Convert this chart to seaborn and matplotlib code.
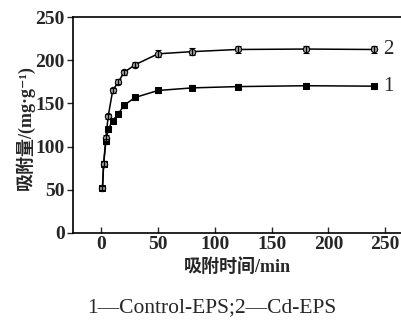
import matplotlib
matplotlib.use("Agg")
import matplotlib.pyplot as plt
import seaborn as sns
import pandas as pd

sns.set_theme(style="ticks")
plt.rcParams['font.family'] = ['Liberation Serif', 'Noto Sans CJK SC', 'DejaVu Serif']

times = [1, 2, 4, 6, 10, 15, 20, 30, 50, 80, 120, 180, 240]
cd_eps = [52, 80, 110, 135, 165, 175, 186, 195, 207.5, 210, 212.5, 213, 212.5]
cd_err = [2, 3, 3, 3, 3, 3, 3, 3, 4, 4, 4, 4, 4]
ctrl_eps = [52, 80, 106, 120, 130, 138, 148, 157, 165, 168, 169.5, 170.5, 170]
ctrl_err = [2, 3, 3, 3, 3, 3, 3, 3, 3, 3, 3, 3, 3]
series_labels = ["1", "2"]
caption = "1—Control-EPS;2—Cd-EPS"

df = pd.concat([
    pd.DataFrame({"t": times, "q": ctrl_eps, "err": ctrl_err, "s": "1"}),
    pd.DataFrame({"t": times, "q": cd_eps, "err": cd_err, "s": "2"}),
])

fig = plt.figure(figsize=(4.01, 3.23), dpi=100)
ax = fig.add_axes([0.182, 0.279, 0.818, 0.668])

sns.lineplot(data=df, x="t", y="q", hue="s", style="s",
             markers={"1": "s", "2": "o"}, dashes=False,
             palette={"1": "black", "2": "black"},
             markersize=4.6, linewidth=1.1, markeredgecolor="black",
             legend=False, ax=ax)
for vals, errs in [(ctrl_eps, ctrl_err), (cd_eps, cd_err)]:
    ax.errorbar(times, vals, yerr=errs, fmt="none", ecolor="black",
                elinewidth=0.8, capsize=2, capthick=0.8)
for line in ax.lines:
    if line.get_marker() == "o":
        line.set_markerfacecolor("#9a9a9a")

ax.text(248, ctrl_eps[-1], series_labels[0], fontsize=15, va="center", ha="left")
ax.text(248, cd_eps[-1], series_labels[1], fontsize=15, va="center", ha="left")

ax.set_xlim(-25, 264)
ax.set_ylim(0, 250)
ax.set_xticks([0, 50, 100, 150, 200, 250])
ax.set_yticks([0, 50, 100, 150, 200, 250])
ax.tick_params(axis="x", direction="in", length=4, width=1, labelsize=14, pad=2)
ax.tick_params(axis="y", direction="out", length=4, width=1, labelsize=14, pad=2)
for lab in ax.get_xticklabels() + ax.get_yticklabels():
    lab.set_fontweight("bold")
ax.set_xlabel("吸附时间/min", fontsize=13, fontweight="bold", va="center")
ax.set_ylabel("吸附量/(mg·g⁻¹)", fontsize=13, fontweight="bold", va="center")
ax.xaxis.set_label_coords(0.5, -0.157)
ax.yaxis.set_label_coords(-0.146, 0.49)
for sp in ["left", "bottom", "top"]:
    ax.spines[sp].set_color("black")
    ax.spines[sp].set_linewidth(1.2)
ax.spines["right"].set_visible(False)

fig.text(0.528, 0.048, caption, ha="center", va="center", fontsize=15.5)

fig.savefig("out.png", dpi=100)
